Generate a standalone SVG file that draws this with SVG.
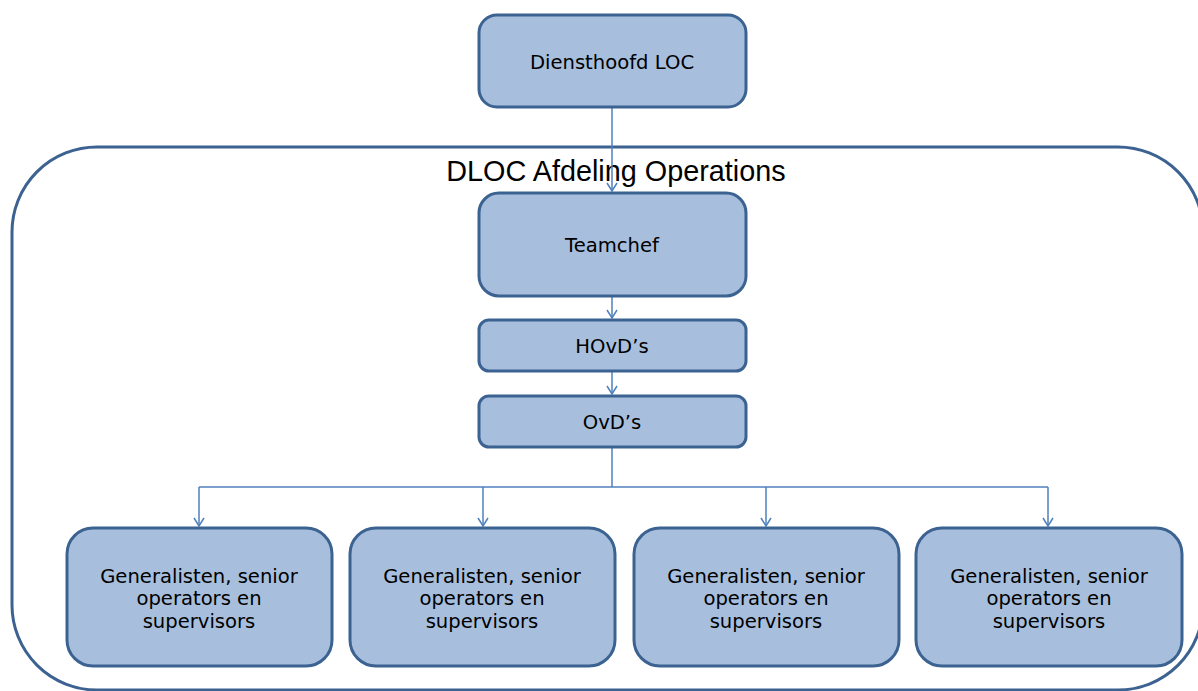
<svg xmlns="http://www.w3.org/2000/svg" width="1198" height="691" viewBox="0 0 1198 691">
<style>
.box{fill:#A7BFDD;stroke:#3B6291;stroke-width:3}
.t{font-family:"DejaVu Sans",Verdana,sans-serif;font-size:19.6px;fill:#000;text-anchor:middle}
.c{fill:none;stroke:#4F81BD;stroke-width:1.5}
</style>
<defs>
<marker id="ah" viewBox="0 0 12 12" refX="11" refY="6" markerWidth="12" markerHeight="12" markerUnits="userSpaceOnUse" orient="auto">
<path d="M3,1 L11,6 L3,11" fill="none" stroke="#4F81BD" stroke-width="1.5"/>
</marker>
</defs>
<rect width="1198" height="691" fill="#fff"/>
<g id="container">
<rect x="12" y="147" width="1191" height="543" rx="85" ry="85" fill="none" stroke="#3B6291" stroke-width="3"/>
<text x="616" y="181" style="font-family:'Liberation Sans',Arial,sans-serif;font-size:28.8px;fill:#000;text-anchor:middle">DLOC Afdeling Operations</text>
</g>
<g id="connectors">
<path class="c" d="M612,108 V191" marker-end="url(#ah)"/>
<path class="c" d="M612,297 V318" marker-end="url(#ah)"/>
<path class="c" d="M612,372 V394" marker-end="url(#ah)"/>
<path class="c" d="M612,448 V487"/>
<path class="c" d="M199,487 H1048"/>
<path class="c" d="M199,487 V526" marker-end="url(#ah)"/>
<path class="c" d="M483,487 V526" marker-end="url(#ah)"/>
<path class="c" d="M766,487 V526" marker-end="url(#ah)"/>
<path class="c" d="M1048,487 V526" marker-end="url(#ah)"/>
</g>
<g id="diensthoofd">
<rect class="box" x="479" y="15" width="267" height="92" rx="18"/>
<text class="t" x="612" y="69">Diensthoofd LOC</text>
</g>
<g id="teamchef">
<rect class="box" x="479" y="193" width="267" height="103" rx="20"/>
<text class="t" x="612" y="252">Teamchef</text>
</g>
<g id="hovd">
<rect class="box" x="479" y="320" width="267" height="51" rx="10"/>
<text class="t" x="612" y="353">HOvD’s</text>
</g>
<g id="ovd">
<rect class="box" x="479" y="396" width="267" height="51" rx="10"/>
<text class="t" x="612" y="429">OvD’s</text>
</g>
<g id="gen1">
<rect class="box" x="67" y="528" width="265" height="138" rx="26"/>
<text class="t" x="199" y="583">Generalisten, senior</text>
<text class="t" x="199" y="605">operators en</text>
<text class="t" x="199" y="628">supervisors</text>
</g>
<g id="gen2">
<rect class="box" x="350" y="528" width="265" height="138" rx="26"/>
<text class="t" x="482" y="583">Generalisten, senior</text>
<text class="t" x="482" y="605">operators en</text>
<text class="t" x="482" y="628">supervisors</text>
</g>
<g id="gen3">
<rect class="box" x="634" y="528" width="265" height="138" rx="26"/>
<text class="t" x="766" y="583">Generalisten, senior</text>
<text class="t" x="766" y="605">operators en</text>
<text class="t" x="766" y="628">supervisors</text>
</g>
<g id="gen4">
<rect class="box" x="916" y="528" width="266" height="138" rx="26"/>
<text class="t" x="1049" y="583">Generalisten, senior</text>
<text class="t" x="1049" y="605">operators en</text>
<text class="t" x="1049" y="628">supervisors</text>
</g>
</svg>
